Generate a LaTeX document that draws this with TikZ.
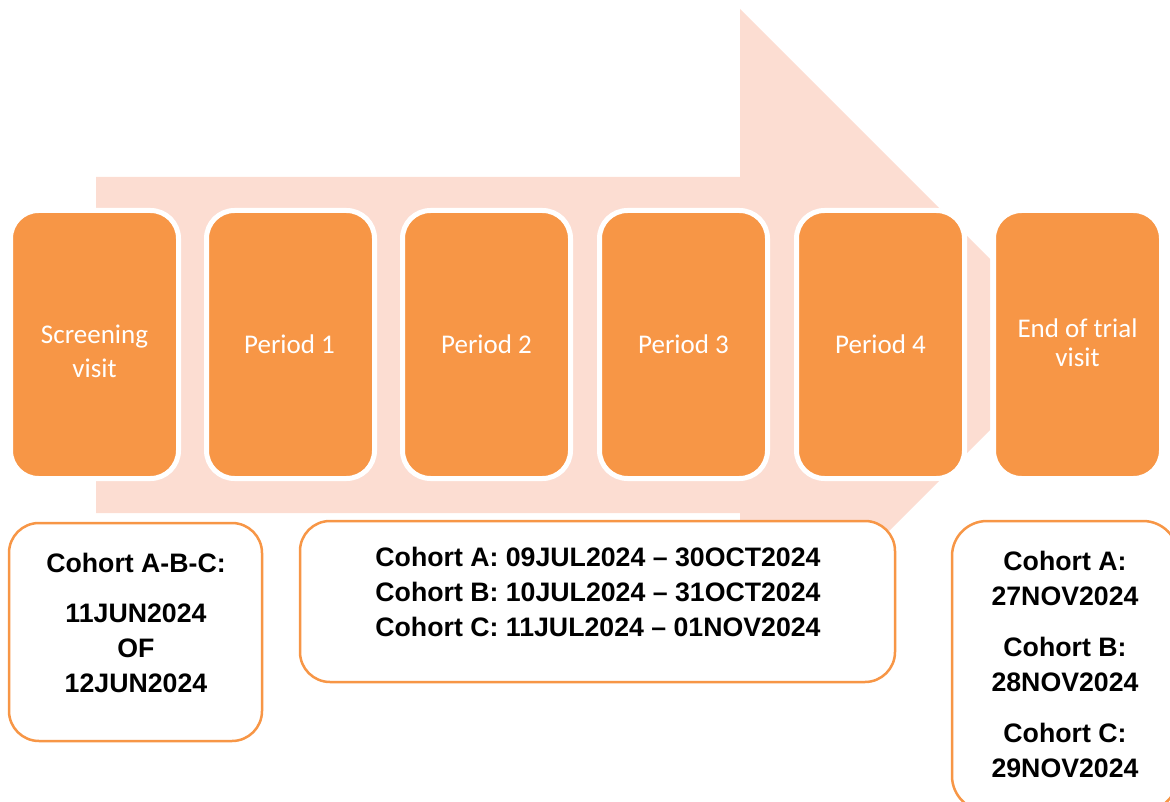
\documentclass[tikz,border=0pt]{standalone}
\usepackage{fontspec}
\setmainfont{Liberation Sans}
\newfontfamily\calib{Carlito}
\definecolor{boxorange}{HTML}{F79646}
\definecolor{arrowpink}{HTML}{FCDDD2}
\begin{document}
\begin{tikzpicture}[x=1pt,y=-1pt,
  phase/.style={rectangle, rounded corners=28pt, fill=boxorange, draw=white, line width=5pt,
    minimum width=168pt, minimum height=268pt, inner sep=0pt},
  phasetext/.style={text=white, align=center, inner sep=0pt, font=\calib\fontsize{27}{34}\selectfont},
  datebox/.style={rectangle, rounded corners=30pt, fill=white, draw=boxorange, line width=2.5pt, inner sep=0pt},
  datetext/.style={text=black, align=center, inner sep=0pt, font=\bfseries\fontsize{26.7}{35}\selectfont}
]
\useasboundingbox (0,0) rectangle (1170,802);
% big background arrow
\fill[arrowpink] (96,177) -- (740,177) -- (740,9) -- (990,259) -- (990,430) -- (740,680) -- (740,513) -- (96,513) -- cycle;
% phase boxes
\node[phase] (s)  at (94.5,344.5) {};
\node[phase] (p1) at (290.5,344.5) {};
\node[phase] (p2) at (486.5,344.5) {};
\node[phase] (p3) at (683.5,344.5) {};
\node[phase] (p4) at (880.5,344.5) {};
\node[phase] (e)  at (1077.5,344.5) {};
\node[phasetext] (st) at (94.5,351) {Screening\\visit};
\node[phasetext] (p1t) at (289.5,344) {Period 1};
\node[phasetext] (p2t) at (486.5,344) {Period 2};
\node[phasetext] (p3t) at (683.5,344) {Period 3};
\node[phasetext] (p4t) at (880.5,344) {Period 4};
\node[phasetext, font=\calib\fontsize{27}{29}\selectfont] (et) at (1077.5,343) {End of trial\\visit};
% date boxes
\node[datebox, minimum width=253pt, minimum height=218pt] (da) at (135.5,632) {};
\node[datebox, minimum width=595pt, minimum height=161pt] (db) at (597.5,601.5) {};
\node[datebox, rounded corners=35pt, minimum width=226pt, minimum height=290pt] (dc) at (1065,666) {};
\node[datetext] (dat) at (136,623) {Cohort A-B-C:\\[15pt]11JUN2024\\OF\\12JUN2024};
\node[datetext] (dbt) at (598,592) {Cohort A: 09JUL2024 – 30OCT2024\\Cohort B: 10JUL2024 – 31OCT2024\\Cohort C: 11JUL2024 – 01NOV2024};
\node[datetext] (dct) at (1065,664) {Cohort A:\\27NOV2024\\[16pt]Cohort B:\\28NOV2024\\[16pt]Cohort C:\\29NOV2024};
\end{tikzpicture}
\end{document}
